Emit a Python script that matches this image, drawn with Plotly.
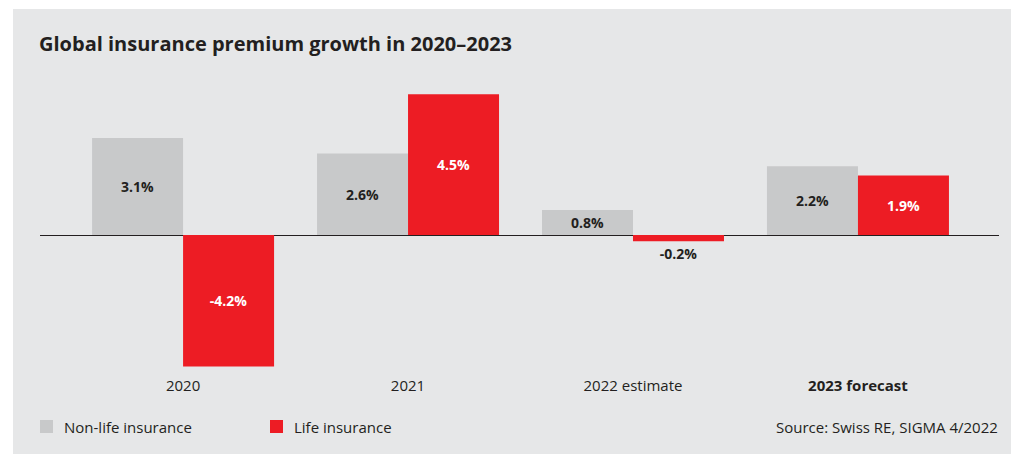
import plotly.graph_objects as go

categories = ["2020", "2021", "2022 estimate", "<b>2023 forecast</b>"]
non_life = [3.1, 2.6, 0.8, 2.2]
life = [-4.2, 4.5, -0.2, 1.9]
non_life_labels = ["3.1%", "2.6%", "0.8%", "2.2%"]
life_labels = ["-4.2%", "4.5%", "-0.2%", "1.9%"]

W, H = 1011, 454
L, R, T, B = 40, 12, 70, 79
PW, PH = W - L - R, H - T - B
FONT = "Open Sans"
DARK = "#231f20"
GRAY_BAR = "#c8c9ca"
RED = "#ed1c24"
PANEL = "#e6e7e8"

def px_x(px):
    return (px - L) / PW

def px_y(py):
    return (H - B - py) / PH

zero_px = 235
scale = 31.3
y_top = (zero_px - T) / scale
y_bot = -((H - B) - zero_px) / scale

xs = list(range(len(categories)))

fig = go.Figure()
fig.add_trace(go.Bar(
    x=xs, y=non_life, name="Non-life insurance",
    marker=dict(color=GRAY_BAR, line=dict(width=0)),
    text=non_life_labels, textposition="inside", insidetextanchor="middle",
    textfont=dict(family=FONT, size=14, color=DARK, weight="bold"),
    constraintext="none", showlegend=False, hoverinfo="skip",
))
life_pos = ["outside" if abs(v) < 0.5 else "inside" for v in life]
life_col = [DARK if abs(v) < 0.5 else "white" for v in life]
fig.add_trace(go.Bar(
    x=xs, y=life, name="Life insurance",
    marker=dict(color=RED, line=dict(width=0)),
    text=life_labels, textposition=life_pos, insidetextanchor="middle",
    textfont=dict(family=FONT, size=14, color=life_col, weight="bold"),
    outsidetextfont=dict(family=FONT, size=14, color=DARK, weight="bold"),
    constraintext="none", cliponaxis=False, showlegend=False, hoverinfo="skip",
))

shapes = [
    dict(type="rect", xref="paper", yref="paper",
         x0=px_x(13), x1=px_x(W + 5), y0=px_y(H + 5), y1=px_y(9),
         fillcolor=PANEL, line=dict(width=0), layer="below"),
    dict(type="rect", xref="paper", yref="paper",
         x0=px_x(40), x1=px_x(53), y0=px_y(433), y1=px_y(420),
         fillcolor=GRAY_BAR, line=dict(width=0)),
    dict(type="rect", xref="paper", yref="paper",
         x0=px_x(270), x1=px_x(283), y0=px_y(433), y1=px_y(420),
         fillcolor=RED, line=dict(width=0)),
]

annotations = [
    dict(text="<b>Global insurance premium growth in 2020–2023</b>",
         xref="paper", yref="paper", x=px_x(37), y=px_y(43),
         xanchor="left", yanchor="middle", showarrow=False,
         font=dict(family=FONT, size=20, color=DARK)),
    dict(text="Non-life insurance", xref="paper", yref="paper",
         x=px_x(62), y=px_y(427), xanchor="left", yanchor="middle",
         showarrow=False, font=dict(family=FONT, size=15, color=DARK)),
    dict(text="Life insurance", xref="paper", yref="paper",
         x=px_x(292), y=px_y(427), xanchor="left", yanchor="middle",
         showarrow=False, font=dict(family=FONT, size=15, color=DARK)),
    dict(text="Source: Swiss RE, SIGMA 4/2022", xref="paper", yref="paper",
         x=px_x(1000), y=px_y(427), xanchor="right", yanchor="middle",
         showarrow=False, font=dict(family=FONT, size=15, color=DARK)),
]

fig.update_layout(
    width=W, height=H,
    margin=dict(l=L, r=R, t=T, b=B, pad=0),
    paper_bgcolor="white", plot_bgcolor="rgba(0,0,0,0)",
    barmode="group", bargap=0.191, bargroupgap=0,
    shapes=shapes, annotations=annotations,
    font=dict(family=FONT, color=DARK),
    xaxis=dict(range=[-0.636, 3.627], tickvals=xs, ticktext=categories,
               showgrid=False, zeroline=False, showline=False, ticks="",
               tickfont=dict(family=FONT, size=15, color=DARK), fixedrange=True),
    yaxis=dict(range=[y_bot, y_top], showgrid=False, showticklabels=False,
               zeroline=True, zerolinecolor=DARK, zerolinewidth=1.4,
               showline=False, ticks="", fixedrange=True),
)

fig.write_html("out.html", config={"displayModeBar": False})
